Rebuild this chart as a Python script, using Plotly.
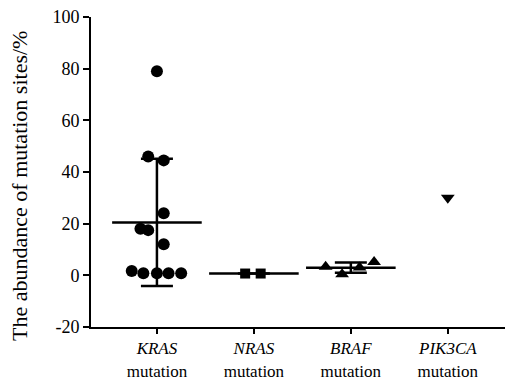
import numpy as np
import plotly.graph_objects as go

categories = ["KRAS", "NRAS", "BRAF", "PIK3CA"]
tick_labels = ["<i>KRAS</i><br>mutation", "<i>NRAS</i><br>mutation",
               "<i>BRAF</i><br>mutation", "<i>PIK3CA</i><br>mutation"]

kras_values = [79, 46, 44.5, 24, 18, 17.5, 12, 1.7, 0.8, 0.8, 0.8, 0.8]
kras_offsets = [0, -0.09, 0.07, 0.07, -0.17, -0.09, 0.07, -0.26, -0.14, 0, 0.12, 0.25]
nras_values = [0.7, 0.7]
nras_offsets = [-0.09, 0.07]
braf_values = [3.3, 0.4, 3.0, 5.2]
braf_offsets = [-0.26, -0.09, 0.09, 0.24]
pik3ca_values = [30]
pik3ca_offsets = [0]

groups = [
    (kras_values, kras_offsets, "circle", 12),
    (nras_values, nras_offsets, "square", 10),
    (braf_values, braf_offsets, "triangle-up", 12),
    (pik3ca_values, pik3ca_offsets, "triangle-down", 12),
]

FONT = "'Liberation Serif', 'Times New Roman', Times, serif"

fig = go.Figure()
for i, (vals, offs, sym, sz) in enumerate(groups):
    xs = [i + o for o in offs]
    fig.add_trace(go.Scatter(
        x=xs, y=vals, mode="markers",
        marker=dict(symbol=sym, size=sz, color="black", line=dict(width=0)),
        showlegend=False, hoverinfo="y"))
    if len(vals) > 1:
        m = float(np.mean(vals))
        sd = float(np.std(vals, ddof=1))
        fig.add_trace(go.Scatter(
            x=[i], y=[m], mode="markers",
            marker=dict(symbol="line-ew", size=64, color="black",
                        line=dict(width=2.5, color="black")),
            error_y=dict(type="data", array=[sd], visible=True,
                         color="black", thickness=2.5, width=16),
            showlegend=False, hoverinfo="skip"))

fig.update_layout(
    width=508, height=381,
    margin=dict(l=91, r=3, t=17, b=54),
    paper_bgcolor="white", plot_bgcolor="white",
    font=dict(family=FONT, size=18, color="black"),
    xaxis=dict(range=[-0.68, 3.59], tickvals=[0, 1, 2, 3], ticktext=tick_labels,
               showgrid=False, zeroline=False, showline=True, linecolor="black",
               linewidth=2, ticks="outside", ticklen=5, tickwidth=1.5,
               tickcolor="black", tickfont=dict(family=FONT, size=17),
               automargin=False),
    yaxis=dict(range=[-20, 100], tickvals=[-20, 0, 20, 40, 60, 80, 100],
               ticktext=["-20", "0", "20", "40", "60", "80", "100"],
               showgrid=False, zeroline=False, showline=True, linecolor="black",
               linewidth=2, ticks="outside", ticklen=6, tickwidth=1.5,
               tickcolor="black", tickfont=dict(family=FONT, size=18),
               automargin=False),
    annotations=[dict(text="The abundance of mutation sites/%", textangle=-90,
                      xref="paper", yref="paper", x=0, y=0.455,
                      xanchor="center", yanchor="middle", xshift=-71,
                      showarrow=False, font=dict(family=FONT, size=22))],
)

fig.write_html("out.html", config={"displayModeBar": False},
               post_script="document.body.style.margin='0';document.body.style.overflow='hidden';")
